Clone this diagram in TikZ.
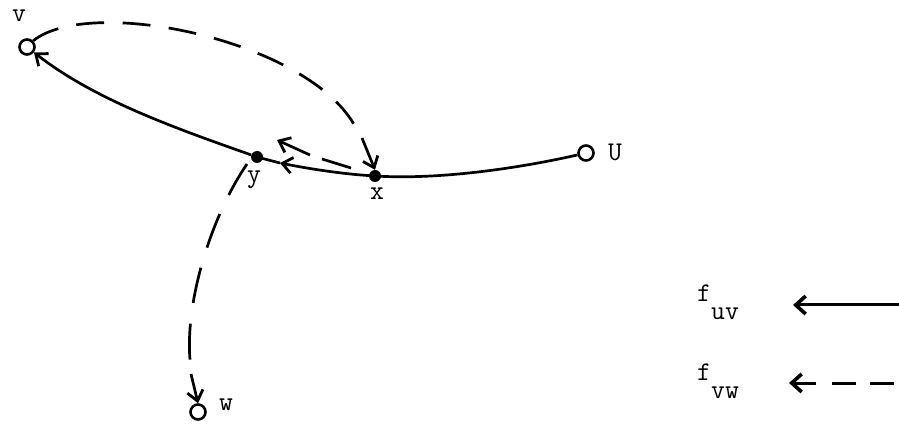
\documentclass[tikz,border=0pt]{standalone}
\usepackage{fontspec}
\setmonofont{Latin Modern Mono}
\usetikzlibrary{arrows.meta}
\begin{document}
\begin{tikzpicture}[x=1pt,y=-1pt,
  lbl/.style={font=\fontsize{27}{29}\selectfont\ttfamily, inner sep=0pt},
  opencirc/.style={circle, draw, line width=2.6pt, minimum size=15pt, inner sep=0pt, fill=white},
  dotnode/.style={circle, fill, minimum size=12pt, inner sep=0pt},
  flow/.style={line width=2.7pt, -{Straight Barb[length=10pt,width=16pt,line width=2.8pt]}},
  dsh/.style={line width=2.7pt, dash pattern=on 30pt off 20pt},
  plain/.style={line width=2.7pt},
  legarrow/.style={line width=3pt, -{Straight Barb[length=10pt,width=18pt,line width=3.6pt]}},
  legdash/.style={line width=3pt, dash pattern=on 24pt off 14pt}]
\useasboundingbox (0,0) rectangle (899,427);
% vertices
\node[opencirc] (v) at (27,47) {};
\node[opencirc] (u) at (586,153) {};
\node[opencirc] (w) at (198,412) {};
\node[dotnode] (x) at (375,176) {};
\node[dotnode] (y) at (257,157) {};
% labels
\node[lbl] (lv) at (19,16) {v};
\node[lbl] (lu) at (615,152) {U};
\node[lbl] (lx) at (377,194) {x};
\node[lbl] (ly) at (254,180) {y};
\node[lbl] (lw) at (226,405) {w};
% solid flow u -> v
\coordinate (ya) at (280,163);
\draw[plain] (u) .. controls (520,168) and (440,180) .. (x.center);
\draw[flow] (x.center) .. controls (340,174) and (305,168) .. (ya);
\draw[plain] (ya) -- (y.center);
\draw[flow] (y) .. controls (175,128) and (95,100) .. (v);
% dashed flow v -> x
\coordinate (vx1) at (356,128);
\coordinate (vx2) at (362,138);
\draw[dsh, dash pattern=on 28pt off 18.4pt] (v.north east) .. controls (90,-5) and (310,40) .. (vx1);
\draw[flow] (vx2) -- (x.north);
% dashed flow x -> y
\coordinate (xy1) at (351,168);
\coordinate (xy2) at (322,159);
\coordinate (xy3) at (310,155);
\coordinate (yb) at (277,140);
\draw[plain] (xy1) -- (xy2);
\draw[flow] (xy3) -- (yb);
% dashed flow y -> w
\coordinate (yc) at (247,164);
\coordinate (yw1) at (190,360);
\coordinate (yw2) at (191,374);
\draw[dsh, dash pattern=on 36pt off 21pt] (yc) .. controls (212,215) and (185,300) .. (yw1);
\draw[flow] (yw2) -- (w.north);
% legend
\node[lbl,anchor=base west] (fuv) at (697,302) {f\raisebox{-18pt}{uv}};
\node[lbl,anchor=base west] (fvw) at (697,380) {f\raisebox{-18pt}{vw}};
\coordinate (a1s) at (899,305);
\coordinate (a1e) at (793,305);
\coordinate (a2s) at (894,383);
\coordinate (a2m) at (831,383);
\coordinate (a2t) at (816,383);
\coordinate (a2e) at (789,383);
\draw[legarrow] (a1s) -- (a1e);
\draw[legdash] (a2s) -- (a2m);
\draw[legarrow] (a2t) -- (a2e);
\end{tikzpicture}
\end{document}
